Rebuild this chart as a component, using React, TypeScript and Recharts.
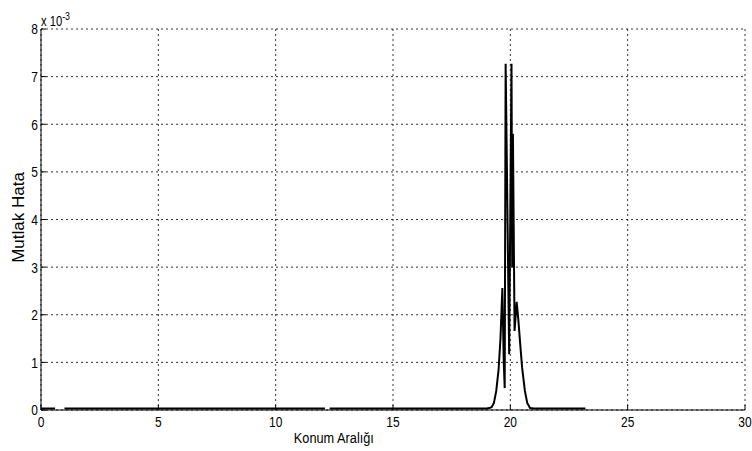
import { CartesianGrid, Line, LineChart, XAxis, YAxis } from "recharts";

// Konum (x) and mutlak hata (x 10^-3)
const positions = [
  0, 0.6, 0.8, 1.0, 5, 10, 12.1, 12.2, 12.3, 15, 19.0, 19.1, 19.2, 19.3, 19.4,
  19.5, 19.58, 19.66, 19.72, 19.76, 19.8, 19.95, 20.05, 20.08, 20.11, 20.18,
  20.27, 20.34, 20.41, 20.5, 20.62, 20.72, 20.84, 21, 23.2,
];
const errors: (number | null)[] = [
  0.03, 0.03, null, 0.03, 0.03, 0.03, 0.03, null, 0.03, 0.03, 0.03, 0.04, 0.06,
  0.15, 0.4, 0.85, 1.5, 2.56, 1.0, 0.46, 7.27, 1.17, 7.27, 3.0, 5.8, 1.66, 2.27,
  1.9, 1.45, 0.9, 0.4, 0.15, 0.04, 0.03, 0.03,
];
const xTicks = [0, 5, 10, 15, 20, 25, 30];
const yTicks = [0, 1, 2, 3, 4, 5, 6, 7, 8];

const data = positions.map((x, i) => ({ x, y: errors[i] }));

const font = "'Liberation Sans', Arial, sans-serif";
const narrow = 0.8; // matlab's condensed look

function BottomTick(props: any) {
  const { x, y, payload } = props;
  return (
    <g>
      <line x1={x} y1={y} x2={x} y2={y - 5} stroke="#000" />
      <text
        transform={`translate(${x} ${y + 17}) scale(${narrow} 1)`}
        textAnchor="middle"
        fontSize={15}
        fontFamily={font}
        fill="#000"
      >
        {payload.value}
      </text>
    </g>
  );
}

function TopTick(props: any) {
  const { x, y } = props;
  return <line x1={x} y1={y} x2={x} y2={y + 5} stroke="#000" />;
}

function LeftTick(props: any) {
  const { x, y, payload } = props;
  return (
    <g>
      <line x1={x} y1={y} x2={x + 5} y2={y} stroke="#000" />
      <text
        transform={`translate(${x - 3} ${y}) scale(${narrow} 1)`}
        dy="0.36em"
        textAnchor="end"
        fontSize={15}
        fontFamily={font}
        fill="#000"
      >
        {payload.value}
      </text>
    </g>
  );
}

function RightTick(props: any) {
  const { x, y } = props;
  return <line x1={x} y1={y} x2={x - 5} y2={y} stroke="#000" />;
}

export default function App() {
  return (
    <div style={{ position: "absolute", left: 0, top: 0, width: 752, height: 451, background: "#fff" }}>
      <div
        style={{
          position: "absolute",
          left: 41,
          top: 8,
          fontFamily: font,
          fontSize: 14,
          lineHeight: "16px",
          color: "#000",
          transform: `scale(${narrow}, 1)`,
          transformOrigin: "left top",
          whiteSpace: "nowrap",
        }}
      >
        x 10<sup style={{ fontSize: 11, verticalAlign: "6px" }}>-3</sup>
      </div>
      <LineChart
        width={752}
        height={451}
        data={data}
        margin={{ top: 29, right: 7, bottom: 21, left: 0 }}
      >
        <CartesianGrid
          xAxisId="bottom"
          yAxisId="left"
          stroke="#000"
          strokeWidth={0.8}
          strokeDasharray="2 3"
        />
        <XAxis
          xAxisId="bottom"
          dataKey="x"
          type="number"
          domain={[0, 30]}
          ticks={xTicks}
          height={20}
          tickSize={0}
          tickMargin={0}
          tickLine={false}
          axisLine={{ stroke: "#000" }}
          tick={<BottomTick />}
          interval={0}
          label={{
            content: ({ viewBox }: any) => {
              const cx = viewBox.x + viewBox.width * 0.416;
              const cy = viewBox.y + 33;
              return (
                <text
                  transform={`translate(${cx} ${cy}) scale(0.85 1)`}
                  textAnchor="middle"
                  fontSize={15}
                  fontFamily={font}
                  fill="#000"
                >
                  Konum Aralığı
                </text>
              );
            },
          }}
        />
        <XAxis
          xAxisId="top"
          orientation="top"
          dataKey="x"
          type="number"
          domain={[0, 30]}
          ticks={xTicks}
          height={0}
          tickSize={0}
          tickMargin={0}
          tickLine={false}
          axisLine={{ stroke: "#000" }}
          tick={<TopTick />}
          interval={0}
        />
        <YAxis
          yAxisId="left"
          type="number"
          domain={[0, 8]}
          ticks={yTicks}
          width={41}
          tickSize={0}
          tickMargin={0}
          tickLine={false}
          axisLine={{ stroke: "#000" }}
          tick={<LeftTick />}
          interval={0}
          label={{
            content: ({ viewBox }: any) => {
              const cx = viewBox.x + 18;
              const cy = viewBox.y + viewBox.height / 2 - 2;
              return (
                <text
                  x={cx}
                  y={cy}
                  transform={`rotate(-90 ${cx} ${cy})`}
                  textAnchor="middle"
                  dominantBaseline="central"
                  fontSize={17}
                  fontFamily={font}
                  fill="#000"
                >
                  Mutlak Hata
                </text>
              );
            },
          }}
        />
        <YAxis
          yAxisId="right"
          orientation="right"
          type="number"
          domain={[0, 8]}
          ticks={yTicks}
          width={0}
          tickSize={0}
          tickMargin={0}
          tickLine={false}
          axisLine={{ stroke: "#000" }}
          tick={<RightTick />}
          interval={0}
        />
        <Line
          xAxisId="bottom"
          yAxisId="left"
          type="linear"
          dataKey="y"
          stroke="#000"
          strokeWidth={2}
          dot={false}
          connectNulls={false}
          isAnimationActive={false}
        />
      </LineChart>
    </div>
  );
}
